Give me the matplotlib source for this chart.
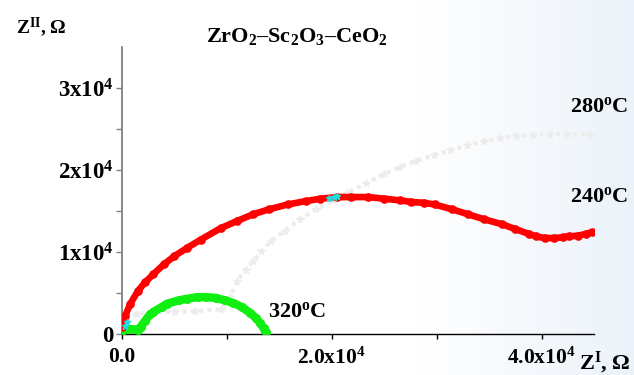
import numpy as np
import matplotlib
matplotlib.use("Agg")
import matplotlib.pyplot as plt
from matplotlib.colors import LinearSegmentedColormap
from matplotlib.ticker import FixedLocator, FixedFormatter

plt.rcParams['font.family'] = ['Liberation Serif', 'DejaVu Serif']
plt.rcParams['font.weight'] = 'bold'
plt.rcParams['mathtext.fontset'] = 'custom'
plt.rcParams['mathtext.rm'] = 'Liberation Serif:bold'
plt.rcParams['mathtext.it'] = 'Liberation Serif:bold'
plt.rcParams['mathtext.bf'] = 'Liberation Serif:bold'

# Impedance spectra, Z' and Z'' in units of 1e4 Ohm
z240_re = [0.00, 0.03, 0.08, 0.15, 0.22, 0.30, 0.40, 0.50, 0.62, 0.75, 0.94, 1.10,
           1.25, 1.40, 1.58, 1.75, 1.89, 2.05, 2.18, 2.35, 2.50, 2.65, 2.76, 2.88,
           2.98, 3.15, 3.30, 3.45, 3.62, 3.75, 3.88, 3.95, 4.03, 4.12, 4.20, 4.26,
           4.35, 4.42, 4.48]
z240_im = [0.08, 0.22, 0.37, 0.52, 0.63, 0.73, 0.85, 0.95, 1.05, 1.15, 1.29, 1.38,
           1.46, 1.52, 1.58, 1.62, 1.65, 1.67, 1.67, 1.67, 1.65, 1.63, 1.61, 1.60,
           1.58, 1.52, 1.46, 1.40, 1.34, 1.28, 1.22, 1.19, 1.17, 1.17, 1.18, 1.19,
           1.20, 1.22, 1.24]

z280_re = [0.05, 0.14, 0.30, 0.50, 0.70, 0.94, 1.03, 1.10, 1.18, 1.25, 1.33, 1.42,
           1.55, 1.70, 1.85, 2.01, 2.15, 2.33, 2.50, 2.65, 2.80, 2.97, 3.13, 3.29,
           3.45, 3.60, 3.76, 3.92, 4.08, 4.24, 4.46]
z280_im = [0.15, 0.25, 0.26, 0.27, 0.28, 0.30, 0.45, 0.65, 0.78, 0.89, 1.01, 1.13,
           1.26, 1.40, 1.52, 1.63, 1.72, 1.84, 1.95, 2.04, 2.11, 2.18, 2.24, 2.30,
           2.35, 2.39, 2.41, 2.43, 2.44, 2.44, 2.43]

z320_re = [0.00, 0.05, 0.10, 0.15, 0.18, 0.22, 0.27, 0.30, 0.38, 0.43, 0.54, 0.62,
           0.72, 0.80, 0.90, 0.98, 1.06, 1.14, 1.22, 1.28, 1.32, 1.35, 1.37]
z320_im = [0.04, 0.06, 0.06, 0.05, 0.09, 0.16, 0.24, 0.27, 0.33, 0.37, 0.41, 0.43,
           0.45, 0.45, 0.44, 0.41, 0.38, 0.33, 0.26, 0.19, 0.13, 0.07, 0.02]

z_cyan_re = [0.03, 0.05, 1.97, 2.02, 2.05]
z_cyan_im = [0.10, 0.15, 1.66, 1.67, 1.68]

x_ticks = [0, 2, 4]
x_ticklabels = ['0.0', r'$\mathregular{2.0x10^{4}}$', r'$\mathregular{4.0x10^{4}}$']
y_ticks = [0, 1, 2, 3]
y_ticklabels = ['0', r'$\mathregular{1x10^{4}}$', r'$\mathregular{2x10^{4}}$',
                r'$\mathregular{3x10^{4}}$']
temp_labels = [r'$\mathregular{280^{o}C}$', r'$\mathregular{240^{o}C}$',
               r'$\mathregular{320^{o}C}$']

fig = plt.figure(figsize=(6.34, 3.75), dpi=100)

# pale slide-style background, white on the left fading to light blue
bg = fig.add_axes([0, 0, 1, 1], zorder=-10)
bg.axis('off')
cmap = LinearSegmentedColormap.from_list(
    'slide', [(0.0, (1, 1, 1)), (0.66, (1, 1, 1)), (1.0, (0.925, 0.952, 0.982))])
grad = np.linspace(0, 1, 400).reshape(1, -1)
bg.imshow(grad, cmap=cmap, aspect='auto', extent=[0, 1, 0, 1])
bg.set_xlim(0, 1)
bg.set_ylim(0, 1)

ax = fig.add_axes([0.1924, 0.1093, 0.7445, 0.7653])
ax.patch.set_alpha(0)

ax.plot(z280_re, z280_im, color='#ececec', lw=3.0, ls=(0, (1.0, 1.0)),
        marker='*', ms=5.5, mec='#ececec', zorder=2)
ax.plot(z320_re, z320_im, color='#11ee11', lw=6, marker='o', ms=5.5,
        solid_capstyle='round', solid_joinstyle='round', zorder=3)
ax.plot(z240_re, z240_im, color='#ff0000', lw=4.8, marker='o', ms=5.2,
        solid_capstyle='round', solid_joinstyle='round', zorder=4)
ax.plot(z_cyan_re, z_cyan_im, ls='none', marker='*', ms=5, color='#22dddd', zorder=5)

ax.set_xlim(0, 4.5)
ax.set_ylim(0, 3.5)

for side in ('top', 'right'):
    ax.spines[side].set_visible(False)
ax.spines['left'].set_color('#808080')
ax.spines['left'].set_linewidth(1.3)
ax.spines['bottom'].set_color('black')
ax.spines['bottom'].set_linewidth(1.0)

ax.xaxis.set_major_locator(FixedLocator(x_ticks))
ax.xaxis.set_major_formatter(FixedFormatter(x_ticklabels))
ax.xaxis.set_minor_locator(FixedLocator([1, 3]))
ax.yaxis.set_major_locator(FixedLocator(y_ticks))
ax.yaxis.set_major_formatter(FixedFormatter(y_ticklabels))
ax.yaxis.set_minor_locator(FixedLocator([0.5, 1.5, 2.5]))

ax.tick_params(axis='x', which='both', direction='out', length=3.5, width=1,
               color='black', labelsize=15.5, pad=6)
ax.tick_params(axis='y', which='both', direction='out', length=4.5, width=1,
               color='#808080', labelsize=16.5, pad=1.5)

ax.text(4.27, 2.77, temp_labels[0], fontsize=16, va='center', ha='left', clip_on=False)
ax.text(4.27, 1.67, temp_labels[1], fontsize=16, va='center', ha='left', clip_on=False)
ax.text(1.39, 0.27, temp_labels[2], fontsize=16, va='center', ha='left')

fig.text(0.468, 0.902, r'ZrO$_{2}$–Sc$_{2}$O$_{3}$–CeO$_{2}$', fontsize=16,
         ha='center', va='center')
fig.text(0.026, 0.928, r'Z$^{II}$, Ω', fontsize=14, ha='left', va='center')
fig.text(0.913, 0.032, r'Z$^{I}$, Ω', fontsize=16, ha='left', va='center')

fig.savefig('out.png', dpi=100)
